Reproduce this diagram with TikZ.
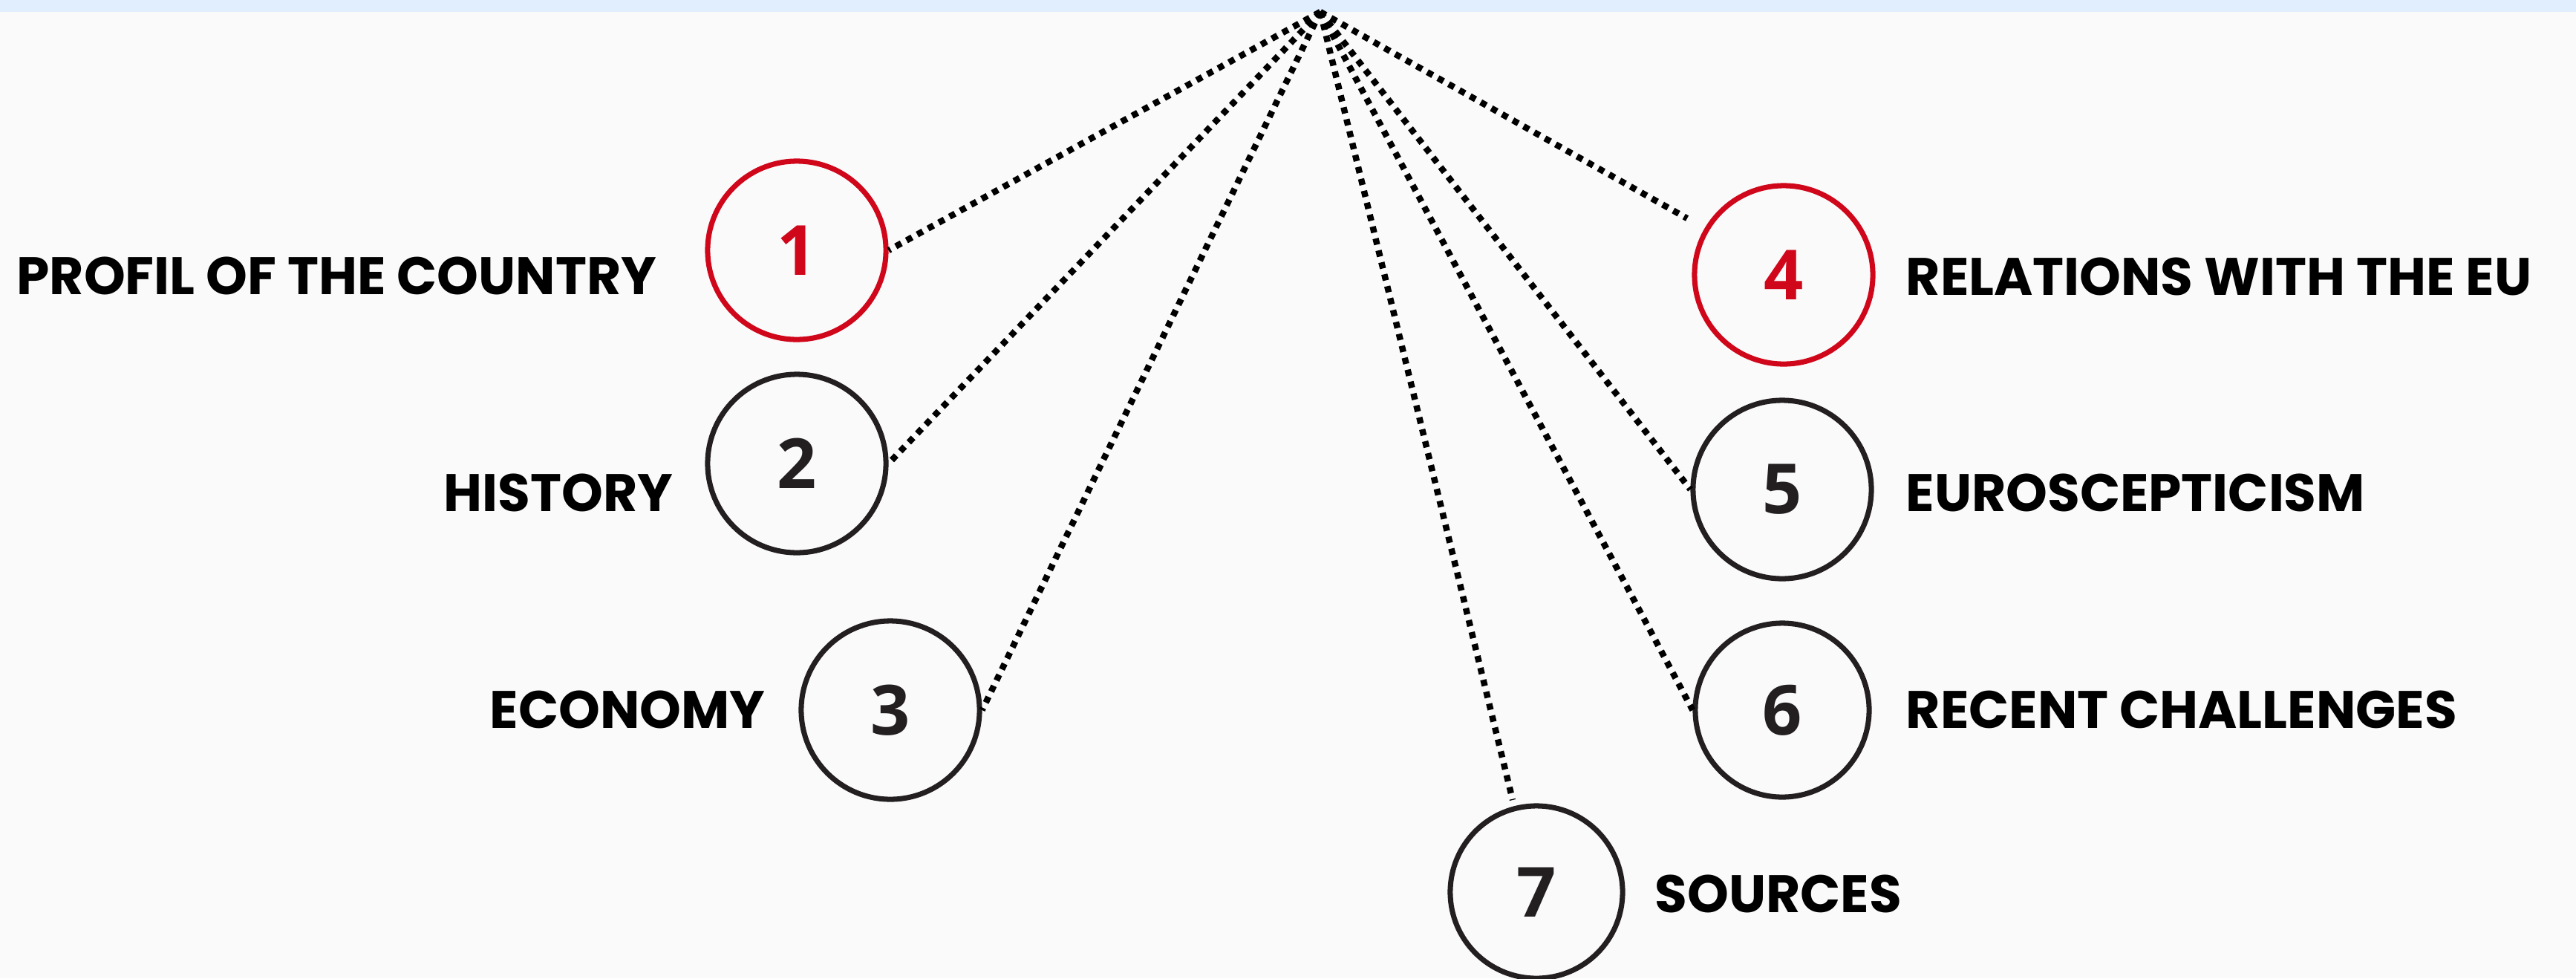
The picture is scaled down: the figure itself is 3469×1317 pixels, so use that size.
\documentclass[tikz,border=0pt]{standalone}
\usepackage{fontspec}
\setmainfont{Poppins}
\newfontfamily\labfont{Poppins}
\newfontfamily\numfont{Open Sans}
\definecolor{bg}{HTML}{FAFAFA}
\definecolor{band}{HTML}{E1EEFE}
\definecolor{redc}{HTML}{D0071B}
\definecolor{darkc}{HTML}{231F20}
\tikzset{
  numcircle/.style={circle,draw=darkc,line width=2pt,minimum size=2.40cm,inner sep=0pt,
    font=\numfont\bfseries\fontsize{26.5}{26.5}\selectfont,text=darkc},
  redcircle/.style={numcircle,draw=redc,text=redc},
  lab/.style={inner sep=0pt,font=\labfont\bfseries\fontsize{20.2}{20.2}\selectfont,text=black},
  dotline/.style={line width=2.4pt,dash pattern=on 2.4pt off 2.3pt,black}
}
\begin{document}
\begin{tikzpicture}[x=0.01cm,y=-0.01cm]
\useasboundingbox (0,0) rectangle (3469,1317);
\fill[bg] (0,0) rectangle (3469,1317);
\fill[band] (0,0) rectangle (3469,16);
\coordinate (hub) at (1778,16);
\node[redcircle] (c1) at (1073,337) {1};
\node[numcircle] (c2) at (1073,624) {2};
\node[numcircle] (c3) at (1199,956) {3};
\node[redcircle] (c4) at (2402,370) {4};
\node[numcircle] (c5) at (2400,659) {5};
\node[numcircle,minimum size=2.34cm] (c6) at (2400,956) {6};
\node[numcircle,minimum size=2.32cm] (c7) at (2069,1201) {7};
\coordinate (e4) at (2272,294);
\coordinate (e7) at (2037,1077);
\node[lab,anchor=base east] (l1) at (885,396) {PROFIL OF THE COUNTRY};
\node[lab,anchor=base east] (l2) at (907,688) {HISTORY};
\node[lab,anchor=base east] (l3) at (1031,980) {ECONOMY};
\node[lab,anchor=base west] (l4) at (2566,397) {RELATIONS WITH THE EU};
\node[lab,anchor=base west] (l5) at (2566,688) {EUROSCEPTICISM};
\node[lab,anchor=base west] (l6) at (2566,980) {RECENT CHALLENGES};
\node[lab,anchor=base west] (l7) at (2228,1228) {SOURCES};
\draw[dotline] (hub) -- (c1.east);
\draw[dotline] (hub) -- (c2.east);
\draw[dotline] (hub) -- (c3.east);
\draw[dotline] (hub) -- (e4);
\draw[dotline] (hub) -- (c5.west);
\draw[dotline] (hub) -- (c6.west);
\draw[dotline] (hub) -- (e7);
\end{tikzpicture}
\end{document}
